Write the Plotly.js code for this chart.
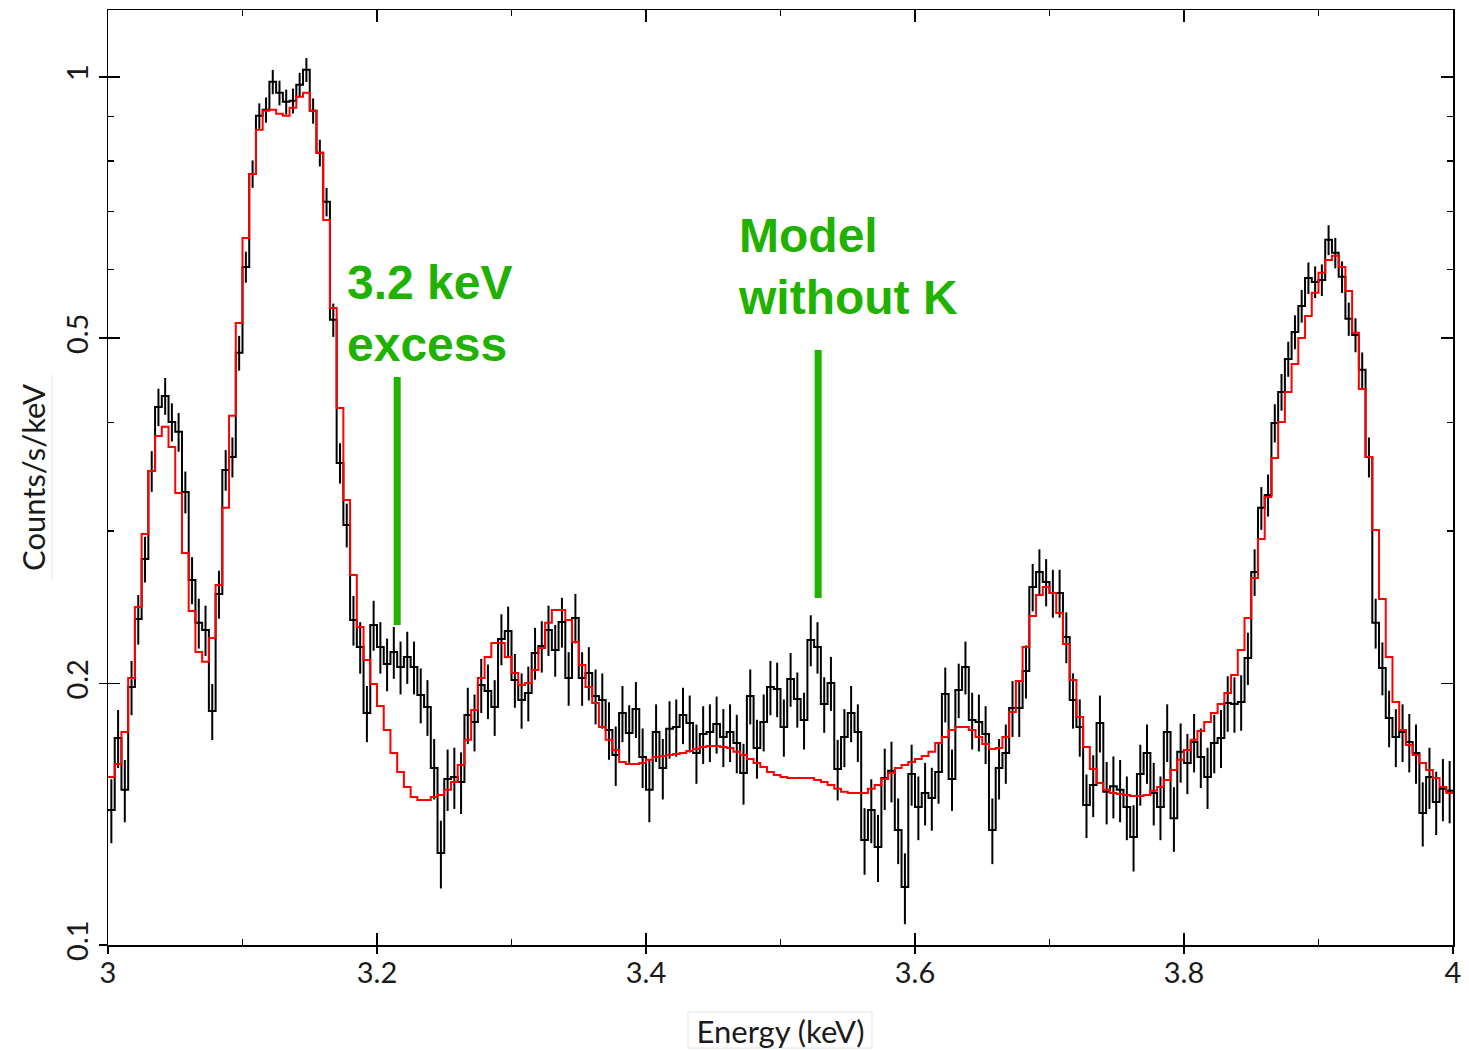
<!DOCTYPE html>
<html>
<head>
<meta charset="utf-8">
<script src="https://cdn.plot.ly/plotly-3.0.1.min.js"></script>
<style>
  html, body { margin: 0; padding: 0; background: #fff; }
  #chart { width: 1469px; height: 1050px; }
</style>
</head>
<body>
<div id="chart"></div>
<script>
// Energy binning of the spectrum (keV)
const binStartKeV = 3.0;
const binWidthKeV = 0.005;

// Observed spectrum (Counts/s/keV), one value per 5 eV bin from 3.0 to 4.0 keV
const dataCounts = [
  0.1431,0.1732,0.1509,0.1982,0.2374,0.2784,0.3516,0.4166,0.4290,0.4004,
  0.3900,0.3326,0.2633,0.2350,0.2306,0.1860,0.2537,0.3526,0.3649,0.4809,
  0.6041,0.7731,0.9017,0.9162,0.9868,0.9585,0.9358,0.9383,0.9790,1.0187,
  0.9138,0.8174,0.7178,0.5249,0.3592,0.3047,0.2368,0.2204,0.1850,0.2337,
  0.2204,0.2107,0.2175,0.2090,0.2147,0.2090,0.1941,0.1880,0.1599,0.1276,
  0.1553,0.1561,0.1541,0.1841,0.1807,0.1993,0.1962,0.1880,0.2252,0.2300,
  0.2020,0.1915,0.1951,0.2170,0.2210,0.2306,0.2187,0.2356,0.2030,0.2381,
  0.2030,0.2058,0.1936,0.1915,0.1769,0.1655,0.1850,0.1755,0.1870,0.1646,
  0.1509,0.1759,0.1599,0.1774,0.1783,0.1841,0.1802,0.1664,0.1750,0.1759,
  0.1797,0.1736,0.1759,0.1709,0.1578,0.1936,0.1686,0.1807,0.1982,0.1972,
  0.1783,0.2025,0.1920,0.1816,0.2246,0.2204,0.1895,0.2004,0.1595,0.1736,
  0.1850,0.1759,0.1321,0.1431,0.1297,0.1557,0.1587,0.1357,0.1166,0.1574,
  0.1442,0.1497,0.1477,0.1582,0.1946,0.1553,0.1967,0.2090,0.1816,0.1807,
  0.1750,0.1357,0.1599,0.1664,0.1875,0.1875,0.2068,0.2585,0.2690,0.2619,
  0.2544,0.2544,0.2264,0.1915,0.1783,0.1450,0.1529,0.1802,0.1501,0.1524,
  0.1509,0.1442,0.1332,0.1574,0.1664,0.1497,0.1442,0.1759,0.1400,0.1669,
  0.1621,0.1713,0.1646,0.1561,0.1709,0.1732,0.1900,0.1895,0.1905,0.2141,
  0.2690,0.3188,0.3299,0.3994,0.4336,0.4733,0.5084,0.5447,0.5867,0.5805,
  0.5836,0.6490,0.6270,0.5883,0.5263,0.5044,0.4597,0.3649,0.2350,0.2085,
  0.1826,0.1736,0.1759,0.1713,0.1664,0.1419,0.1561,0.1461,0.1513,0.1505
];

// Model without K (Counts/s/keV), same bins
const modelCounts = [
  0.1561,0.1616,0.1759,0.2030,0.2451,0.2975,0.3516,0.3858,0.3952,0.3747,
  0.3317,0.2829,0.2425,0.2175,0.2119,0.2258,0.2599,0.3188,0.4069,0.5207,
  0.6524,0.7731,0.8689,0.9138,0.9162,0.9065,0.9017,0.9211,0.9483,0.9585,
  0.9138,0.8174,0.6843,0.5418,0.4156,0.3256,0.2668,0.2325,0.2130,0.1998,
  0.1885,0.1769,0.1664,0.1582,0.1521,0.1481,0.1469,0.1469,0.1481,0.1489,
  0.1509,0.1541,0.1612,0.1723,0.1865,0.2030,0.2147,0.2228,0.2228,0.2147,
  0.2058,0.1993,0.2004,0.2074,0.2199,0.2350,0.2432,0.2432,0.2368,0.2234,
  0.2102,0.1982,0.1900,0.1783,0.1723,0.1677,0.1625,0.1616,0.1616,0.1621,
  0.1634,0.1646,0.1651,0.1655,0.1660,0.1664,0.1673,0.1682,0.1691,0.1695,
  0.1695,0.1691,0.1686,0.1669,0.1655,0.1638,0.1621,0.1603,0.1582,0.1570,
  0.1561,0.1557,0.1557,0.1557,0.1557,0.1549,0.1541,0.1529,0.1513,0.1501,
  0.1497,0.1497,0.1497,0.1513,0.1529,0.1553,0.1578,0.1599,0.1612,0.1625,
  0.1638,0.1651,0.1669,0.1709,0.1736,0.1769,0.1783,0.1783,0.1769,0.1736,
  0.1704,0.1682,0.1686,0.1736,0.1855,0.2014,0.2204,0.2393,0.2531,0.2585,
  0.2544,0.2413,0.2222,0.2020,0.1831,0.1691,0.1595,0.1537,0.1509,0.1497,
  0.1493,0.1489,0.1485,0.1485,0.1489,0.1505,0.1521,0.1549,0.1591,0.1634,
  0.1677,0.1723,0.1764,0.1807,0.1850,0.1895,0.1951,0.2047,0.2187,0.2381,
  0.2647,0.2936,0.3282,0.3640,0.4004,0.4336,0.4670,0.5004,0.5304,0.5639,
  0.5946,0.6154,0.6220,0.6041,0.5668,0.5071,0.4371,0.3649,0.3007,0.2504,
  0.2147,0.1905,0.1769,0.1700,0.1655,0.1621,0.1591,0.1557,0.1521,0.1497
];

// Poisson-like relative uncertainty scale: sigma = errScale * sqrt(rate)
const errScale = 0.032;

// Axis ticks
const xRange = [3, 4];
const xMajorStep = 0.2;
const xMinorStep = 0.1;
const yTickVals = [0.1, 0.2, 0.5, 1];
const yTickText = ['0.1', '0.2', '0.5', '1'];
const yMinorTickVals = [0.3, 0.4, 0.6, 0.7, 0.8, 0.9];
const yRangeLog = [-1, 0.077];

// Annotation texts
const noteExcess = '3.2 keV<br>excess';
const noteModel = 'Model<br>without K';
const noteExcessEnergy = 3.215;
const noteModelEnergy = 3.528;

// ---- build step geometry from the bins ----
const nBins = dataCounts.length;
const edges = [], centers = [];
for (let i = 0; i <= nBins; i++) edges.push(+(binStartKeV + i * binWidthKeV).toFixed(4));
for (let i = 0; i < nBins; i++) centers.push(+(binStartKeV + (i + 0.5) * binWidthKeV).toFixed(5));
function stepY(vals) { const out = vals.slice(); out.push(vals[vals.length - 1]); return out; }
const dataErr = dataCounts.map(v => errScale * Math.sqrt(v));

const tickFont = { family: 'Lato, "Liberation Sans", sans-serif', size: 29, color: '#1a1a1a' };
const titleFont = { family: 'Lato, "Liberation Sans", sans-serif', size: 31, color: '#1a1a1a' };

const traces = [
  { // data histogram
    x: edges, y: stepY(dataCounts), type: 'scatter', mode: 'lines',
    line: { shape: 'hv', color: '#000', width: 2 }, hoverinfo: 'skip', showlegend: false
  },
  { // data error bars
    x: centers, y: dataCounts, type: 'scatter', mode: 'markers',
    marker: { size: 1, color: 'rgba(0,0,0,0)' },
    error_y: { type: 'data', array: dataErr, visible: true, color: '#000', thickness: 2, width: 0 },
    hoverinfo: 'skip', showlegend: false
  },
  { // model
    x: edges, y: stepY(modelCounts), type: 'scatter', mode: 'lines',
    line: { shape: 'hv', color: '#ff0000', width: 2 }, hoverinfo: 'skip', showlegend: false
  },
  { // helper trace for outward tick marks
    x: [3.5], y: [0.3], xaxis: 'x2', yaxis: 'y2', type: 'scatter', mode: 'markers',
    marker: { size: 1, color: 'rgba(0,0,0,0)' }, hoverinfo: 'skip', showlegend: false
  }
];

const green = '#1fb200';
const layout = {
  width: 1469, height: 1050,
  margin: { l: 108, r: 16, t: 10, b: 105, pad: 0 },
  paper_bgcolor: '#fff', plot_bgcolor: '#fff',
  showlegend: false,
  xaxis: {
    range: xRange, tick0: xRange[0], dtick: xMajorStep,
    ticks: 'inside', ticklen: 12, tickwidth: 1.5, tickcolor: '#000',
    showline: true, linecolor: '#000', linewidth: 1.5, mirror: 'ticks',
    showgrid: false, zeroline: false,
    tickfont: tickFont, ticklabelstandoff: 2,
    minor: { tick0: xRange[0], dtick: xMinorStep, ticks: 'inside', ticklen: 6, tickwidth: 1.5, tickcolor: '#000', showgrid: false },
    title: { text: 'Energy (keV)', font: titleFont, standoff: 34 },
    automargin: false
  },
  xaxis2: {
    overlaying: 'x', anchor: 'y2', side: 'bottom', range: xRange, tick0: xRange[0], dtick: xMajorStep,
    ticks: 'outside', ticklen: 8, tickwidth: 1.5, tickcolor: '#000',
    showticklabels: false, showline: false, showgrid: false, zeroline: false
  },
  yaxis: {
    type: 'log', range: yRangeLog,
    tickmode: 'array', tickvals: yTickVals, ticktext: yTickText,
    ticks: 'inside', ticklen: 12, tickwidth: 1.5, tickcolor: '#000',
    showline: true, linecolor: '#000', linewidth: 1.5, mirror: 'ticks',
    showgrid: false, zeroline: false,
    tickangle: -90, tickfont: tickFont, ticklabelstandoff: 7,
    minor: { tickmode: 'array', tickvals: yMinorTickVals, ticks: 'inside', ticklen: 6, tickwidth: 1.5, tickcolor: '#000', showgrid: false },
    title: { text: 'Counts/s/keV', font: titleFont, standoff: 4 },
    automargin: false
  },
  yaxis2: {
    overlaying: 'y', anchor: 'x2', side: 'left', type: 'log', range: yRangeLog,
    tickmode: 'array', tickvals: yTickVals,
    ticks: 'outside', ticklen: 8, tickwidth: 1.5, tickcolor: '#000',
    showticklabels: false, showline: false, showgrid: false, zeroline: false
  },
  annotations: [
    { text: noteExcess, xref: 'x', yref: 'paper', x: 3.176, y: 0.675, xanchor: 'left', yanchor: 'middle',
      align: 'left', showarrow: false,
      font: { family: '"Liberation Sans", Arial, sans-serif', size: 48, color: green, weight: 700 } },
    { text: noteModel, xref: 'x', yref: 'paper', x: 3.467, y: 0.726, xanchor: 'left', yanchor: 'middle',
      align: 'left', showarrow: false,
      font: { family: '"Liberation Sans", Arial, sans-serif', size: 48, color: green, weight: 700 } }
  ],
  shapes: [
    { type: 'line', xref: 'x', yref: 'paper', x0: noteExcessEnergy, x1: noteExcessEnergy, y0: 0.3422, y1: 0.6075,
      line: { color: green, width: 7 } },
    { type: 'line', xref: 'x', yref: 'paper', x0: noteModelEnergy, x1: noteModelEnergy, y0: 0.3711, y1: 0.6364,
      line: { color: green, width: 7 } },
    { type: 'rect', xref: 'paper', yref: 'paper', x0: 0.4312, x1: 0.5680, y0: -0.1102, y1: -0.0717,
      line: { color: '#e4e4e4', width: 1 } },
    { type: 'line', xref: 'paper', yref: 'paper', x0: -0.0416, x1: -0.0416, y0: 0.3904, y1: 0.6096,
      line: { color: '#e4e4e4', width: 1 } }
  ]
};

Plotly.newPlot('chart', traces, layout, { displayModeBar: false, staticPlot: true });
</script>
</body>
</html>
